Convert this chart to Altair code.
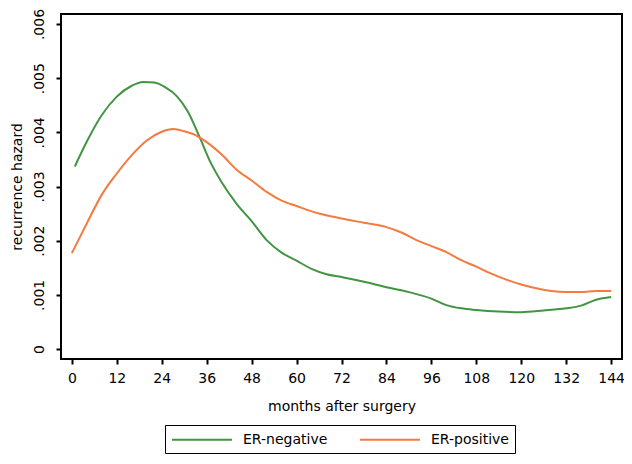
import altair as alt
import pandas as pd

neg_months = [0.8, 4, 8, 12, 16, 19, 22, 25, 28, 31, 34, 37, 40, 44, 48, 52, 56, 60, 64, 68, 72, 78, 84, 90, 96, 100, 104, 108, 114, 120, 126, 132, 136, 140, 144]
neg_values = [0.00337, 0.00383, 0.00432, 0.00466, 0.00486, 0.00493, 0.00492, 0.00483, 0.00467, 0.00438, 0.00393, 0.00345, 0.00308, 0.00268, 0.00236, 0.00201, 0.00178, 0.00163, 0.00148, 0.00138, 0.00133, 0.00124, 0.00114, 0.00105, 0.00093, 0.00081, 0.00075, 0.00072, 0.00069, 0.00068, 0.00071, 0.00075, 0.00080, 0.00091, 0.00096]

pos_months = [0, 4, 8, 12, 16, 20, 24, 27, 30, 33, 36, 40, 44, 48, 52, 56, 60, 66, 72, 78, 84, 88, 92, 96, 100, 104, 108, 112, 116, 120, 124, 128, 132, 136, 140, 144]
pos_values = [0.00177, 0.00232, 0.00285, 0.00324, 0.00358, 0.00385, 0.00401, 0.00406, 0.00402, 0.00395, 0.00382, 0.00359, 0.00331, 0.00311, 0.00290, 0.00274, 0.00264, 0.00250, 0.00241, 0.00233, 0.00225, 0.00215, 0.00201, 0.00190, 0.00179, 0.00164, 0.00152, 0.00139, 0.00128, 0.00119, 0.00112, 0.00107, 0.00105, 0.00105, 0.00107, 0.00107]

series = ["ER-negative", "ER-positive"]
colors = ["#429442", "#f47a40"]
x_ticks = list(range(0, 145, 12))
y_ticks = [0, 0.001, 0.002, 0.003, 0.004, 0.005, 0.006]

df = pd.concat([
    pd.DataFrame({"month": neg_months, "hazard": neg_values, "group": series[0]}),
    pd.DataFrame({"month": pos_months, "hazard": pos_values, "group": series[1]}),
])

FONT = "DejaVu Sans"

chart = alt.Chart(df).mark_line(strokeWidth=2, interpolate="monotone").encode(
    x=alt.X("month:Q",
            scale=alt.Scale(domain=[-2.9, 146.9], nice=False, zero=False),
            axis=alt.Axis(values=x_ticks, title="months after surgery", grid=False,
                          domain=False, tickSize=5, tickWidth=2, tickColor="black",
                          labelPadding=7, titlePadding=14, labelFont=FONT, labelFontSize=14,
                          titleFont=FONT, titleFontSize=14, titleFontWeight="normal",
                          labelColor="black", titleColor="black")),
    y=alt.Y("hazard:Q",
            scale=alt.Scale(domain=[-0.000185, 0.006185], nice=False, zero=False),
            axis=alt.Axis(values=y_ticks, title="recurrence hazard", grid=False,
                          domain=False, tickSize=5, tickWidth=2, tickColor="black",
                          labelAngle=270, labelAlign="center", labelBaseline="bottom",
                          labelPadding=10, titlePadding=8,
                          labelExpr="datum.value == 0 ? '0' : replace(format(datum.value, '.3f'), '0.', '.')",
                          labelFont=FONT, labelFontSize=14, titleFont=FONT, titleFontSize=14,
                          titleFontWeight="normal", labelColor="black", titleColor="black")),
    color=alt.Color("group:N",
                    scale=alt.Scale(domain=series, range=colors),
                    legend=alt.Legend(title=None, orient="none", legendX=104, legendY=411,
                                      direction="horizontal", columns=2,
                                      symbolType="M-1,0H7", symbolSize=225, symbolStrokeWidth=2,
                                      labelFont=FONT, labelFontSize=14, labelColor="black",
                                      labelOffset=55, columnPadding=28, padding=6,
                                      strokeColor="black", fillColor="white")),
).properties(
    width=561, height=345,
    autosize=alt.AutoSizeParams(type="none"),
    padding={"left": 53, "top": 6, "right": 2, "bottom": 97},
).configure(background="white").configure_view(stroke="black", strokeWidth=2)

chart.save("out.html", embed_options={"renderer": "svg", "actions": False})
